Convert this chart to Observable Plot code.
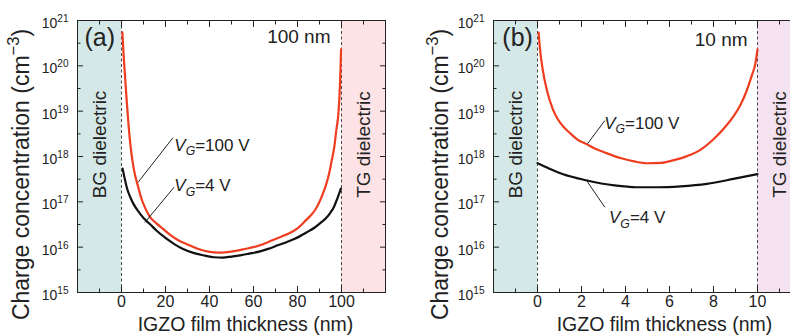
<!DOCTYPE html>
<html><head><meta charset="utf-8">
<script src="https://cdn.jsdelivr.net/npm/d3@7"></script>
<script src="https://cdn.jsdelivr.net/npm/@observablehq/plot@0.6"></script>
<style>
html,body{margin:0;padding:0;background:#fff;overflow:hidden}
#wrap{position:relative;width:790px;height:336px;overflow:hidden;background:#fff}
#wrap svg{position:absolute;top:0}
</style></head><body><div id="wrap"></div>
<script>
// ---------- data: panel (a), 100 nm film ----------
const thickA100 = [0.4,1.0,1.5,2.4,3.2,4,5,6,7.5,9,11,13,16,19,22,26,30,35,40,44,48,52,56,60,64,68,72,76,80,84,86,88,90,91.5,93,94.5,95.5,96.7,97.7,98.5,99.1,99.5,99.8];
const concA100 = [5.5e20,1.6e20,7.1e19,1.6e19,5.0e18,1.9e18,7.9e17,4.2e17,2.2e17,1.2e17,6.9e16,4.6e16,3.3e16,2.5e16,1.9e16,1.4e16,1.15e16,9.1e15,7.9e15,7.6e15,7.8e15,8.3e15,9.1e15,1.0e16,1.15e16,1.38e16,1.66e16,2.0e16,2.6e16,4.0e16,5.0e16,6.6e16,1.0e17,1.5e17,2.4e17,4.5e17,7.9e17,1.6e18,4.0e18,7.9e18,2.2e19,7.1e19,2.3e20];
const thickA4 = [0.5,1.5,2.5,4,5.5,7.5,10,13,16,20,24,28,33,38,42,46,50,54,58,63,67,71,75,79,84,88,91,93,95,96.5,98,99.7];
const concA4 = [5.4e17,3.2e17,2.0e17,1.26e17,8.9e16,6.3e16,4.4e16,3.2e16,2.3e16,1.6e16,1.17e16,9.1e15,7.4e15,6.5e15,6.0e15,5.9e15,6.2e15,6.6e15,7.2e15,8.1e15,9.3e15,1.1e16,1.29e16,1.55e16,2.1e16,2.75e16,3.6e16,4.4e16,5.8e16,7.6e16,1.15e17,1.95e17];

// ---------- data: panel (b), 10 nm film ----------
const thickB100 = [0.05,0.12,0.23,0.45,0.7,0.91,1.2,1.5,1.85,2.2,2.6,3.0,3.5,3.9,4.4,5.0,5.6,6.2,6.8,7.4,8.0,8.5,8.9,9.2,9.5,9.75,9.9,10];
const concB100 = [5.4e20,2.2e20,8.7e19,2.6e19,1.1e19,6.8e18,4.4e18,3.2e18,2.3e18,1.9e18,1.5e18,1.26e18,1.02e18,8.9e17,7.8e17,7.1e17,7.2e17,8.3e17,1.02e18,1.4e18,2.4e18,4.3e18,7.6e18,1.3e19,2.75e19,6.3e19,1.1e20,2.3e20];
const thickB4 = [0,0.5,1.2,2.2,3.5,4.5,5.5,6.5,7.7,8.9,10];
const concB4 = [7.1e17,5.5e17,4.0e17,3.0e17,2.3e17,2.1e17,2.1e17,2.2e17,2.5e17,3.2e17,4.1e17];

// ---------- ticks & labels ----------
const yTicks = [1e15,1e16,1e17,1e18,1e19,1e20,1e21];
const yTickExp = ["15","16","17","18","19","20","21"];
const yMinor = [3.16e15,3.16e16,3.16e17,3.16e18,3.16e19,3.16e20];
const xMajorA = [-20,0,20,40,60,80,100,120];
const xMinorA = [-10,10,30,50,70,90,110];
const xLabelsA = [0,20,40,60,80,100];
const xMajorB = [-2,0,2,4,6,8,10,12];
const xMinorB = [-1,1,3,5,7,9,11];
const xLabelsB = [0,2,4,6,8,10];
const xTitle = "IGZO film thickness (nm)";
const yTitle = "Charge concentration (cm^{−3})";

const regionsA = [{x1:-20,x2:0,label:"BG dielectric",color:"#d5e8e8"},{x1:100,x2:120,label:"TG dielectric",color:"#fde2e6"}];
const regionsB = [{x1:-2,x2:0,label:"BG dielectric",color:"#d5e8e8"},{x1:10,x2:12,label:"TG dielectric",color:"#f5e2f0"}];
const interfacesA = [0,100];
const interfacesB = [0,10];

const pointersA = [
  {x1:7.55,y1:2.7e17,x2:23.4,y2:2.6e18,lx:24,ly:1.35e18,label:"*V*_{*G*}=100 V"},
  {x1:10.6,y1:3.5e16,x2:23.9,y2:2.1e17,lx:24,ly:1.7e17,label:"*V*_{*G*}=4 V"}
];
const pointersB = [
  {x1:2.27,y1:1.9e18,x2:3.06,y2:6.2e18,lx:3.03,ly:4.1e18,label:"*V*_{*G*}=100 V"},
  {x1:2.24,y1:2.9e17,x2:3.06,y2:7.6e16,lx:3.25,ly:3.4e16,label:"*V*_{*G*}=4 V"}
];
const cornerA = [{x:-16.8,y:2.8e20,label:"(a)"}];
const cornerB = [{x:-1.6,y:2.8e20,label:"(b)"}];
const thickLabelA = [{x:95,y:3.2e20,label:"100 nm"}];
const thickLabelB = [{x:9.55,y:2.8e20,label:"10 nm"}];

// ---------- helpers ----------
const FONT = "'Liberation Sans', Arial, Helvetica, sans-serif";
const svgNS = "http://www.w3.org/2000/svg";
function setRich(el, s, fs) {
  const parts = s.split(/(_\{[^}]*\}|\^\{[^}]*\}|\*[^*]*\*)/g).filter(p => p);
  el.textContent = "";
  let shift = 0;
  for (const p of parts) {
    const t = document.createElementNS(svgNS, "tspan");
    let txt = p, italic = false, size = null, target = 0;
    if (p.startsWith("_{")) { txt = p.slice(2, -1); size = 0.72; target = 0.27 * fs; }
    else if (p.startsWith("^{")) { txt = p.slice(2, -1); size = 0.72; target = -0.42 * fs; }
    else if (p.length > 1 && p.startsWith("*") && p.endsWith("*")) { txt = p.slice(1, -1); italic = true; }
    if (txt.length > 1 && txt.startsWith("*") && txt.endsWith("*")) { txt = txt.slice(1, -1); italic = true; }
    if (size) t.setAttribute("font-size", (size * fs) + "px");
    if (italic) t.setAttribute("font-style", "italic");
    const d = target - shift;
    if (d) t.setAttribute("dy", d);
    shift = target;
    t.textContent = txt;
    el.appendChild(t);
  }
}
function rich(fs) {
  return function(index, scales, values, dims, context, next) {
    const g = next(index, scales, values, dims, context);
    g.querySelectorAll("text").forEach(el => setRich(el, el.textContent, fs));
    return g;
  };
}
const pts = (xs, ys) => xs.map((x, i) => ({x, n: ys[i]}));

function panel(c) {
  return Plot.plot({
    width: c.width, height: 336,
    marginLeft: c.ml, marginRight: c.mr, marginTop: 20, marginBottom: 44,
    style: {fontFamily: FONT, color: "#222", background: "transparent", overflow: "visible"},
    x: {domain: c.xDomain},
    y: {type: "log", domain: [1e15, 1e21]},
    marks: [
      Plot.rect(c.regions, {x1: "x1", x2: "x2", fill: "color"}),
      Plot.text(c.regions, {x: d => (d.x1 + d.x2) / 2, frameAnchor: "middle", dy: -12, rotate: -90, textAnchor: "middle", lineAnchor: "middle", text: "label", fontSize: 19, fill: "#222"}),
      Plot.ruleX(c.interfaces, {stroke: "#333", strokeWidth: 0.9, strokeDasharray: "3,2.5"}),
      Plot.line(pts(c.x4, c.n4), {x: "x", y: "n", stroke: "#111", strokeWidth: 2.2, curve: "monotone-x"}),
      Plot.line(pts(c.x100, c.n100), {x: "x", y: "n", stroke: "#ee3d1f", strokeWidth: 2.2, curve: "monotone-x"}),
      Plot.link(c.pointers, {x1: "x1", y1: "y1", x2: "x2", y2: "y2", stroke: "#222", strokeWidth: 1}),
      Plot.text(c.pointers, {x: "lx", y: "ly", text: "label", textAnchor: "start", lineAnchor: "bottom", fontSize: 17, fill: "#222", render: rich(17)}),
      Plot.text(c.corner, {x: "x", y: "y", text: "label", textAnchor: "start", lineAnchor: "bottom", fontSize: 25, fill: "#222"}),
      Plot.text(c.thick, {x: "x", y: "y", text: "label", textAnchor: "end", lineAnchor: "bottom", fontSize: 19, fill: "#222"}),
      Plot.frame({stroke: "#222", strokeWidth: 1}),
      Plot.axisX(c.xMajor, {anchor: "bottom", tickSize: -6, fill: "none", label: null}),
      Plot.axisX(c.xMajor, {anchor: "top", tickSize: -6, fill: "none", label: null}),
      Plot.axisX(c.xMinor, {anchor: "bottom", tickSize: -3.5, fill: "none", label: null}),
      Plot.axisX(c.xMinor, {anchor: "top", tickSize: -3.5, fill: "none", label: null}),
      Plot.axisY(yTicks, {anchor: "left", tickSize: -6, fill: "none", label: null}),
      Plot.axisY(yTicks, {anchor: "right", tickSize: -6, fill: "none", label: null}),
      Plot.axisY(yMinor, {anchor: "left", tickSize: -3.5, fill: "none", label: null}),
      Plot.axisY(yMinor, {anchor: "right", tickSize: -3.5, fill: "none", label: null}),
      Plot.axisX(c.xLabels, {anchor: "bottom", tickSize: 0, tickPadding: 3, fontSize: 16, label: null, fill: "#222"}),
      Plot.text(yTicks, {y: d => d, frameAnchor: "left", dx: -9, dy: 3, textAnchor: "end", lineAnchor: "middle", text: (d, i) => "10^{" + yTickExp[i] + "}", fontSize: 14, fill: "#222", render: rich(14)}),
      Plot.text([xTitle], {frameAnchor: "bottom", dx: c.xtDx, dy: 38, textAnchor: "middle", lineAnchor: "bottom", text: d => d, fontSize: 19.5, fill: "#222"}),
      Plot.text([yTitle], {frameAnchor: "left", dx: c.ytDx, dy: 18, rotate: -90, textAnchor: "middle", lineAnchor: "middle", text: d => d, fontSize: 23, fill: "#222", render: rich(23)})
    ]
  });
}

const wrap = document.getElementById("wrap");
const svgA = panel({width: 400, ml: 77, mr: 15, xDomain: [-20, 120], regions: regionsA, interfaces: interfacesA,
  x100: thickA100, n100: concA100, x4: thickA4, n4: concA4, pointers: pointersA, corner: cornerA, thick: thickLabelA,
  xMajor: xMajorA, xMinor: xMinorA, xLabels: xLabelsA, xtDx: 14, ytDx: -56});
const svgB = panel({width: 420, ml: 93, mr: 19, xDomain: [-2, 12], regions: regionsB, interfaces: interfacesB,
  x100: thickB100, n100: concB100, x4: thickB4, n4: concB4, pointers: pointersB, corner: cornerB, thick: thickLabelB,
  xMajor: xMajorB, xMinor: xMinorB, xLabels: xLabelsB, xtDx: 17, ytDx: -53});
svgA.style.left = "0px";
svgB.style.left = "400px";
wrap.appendChild(svgA);
wrap.appendChild(svgB);
</script></body></html>
